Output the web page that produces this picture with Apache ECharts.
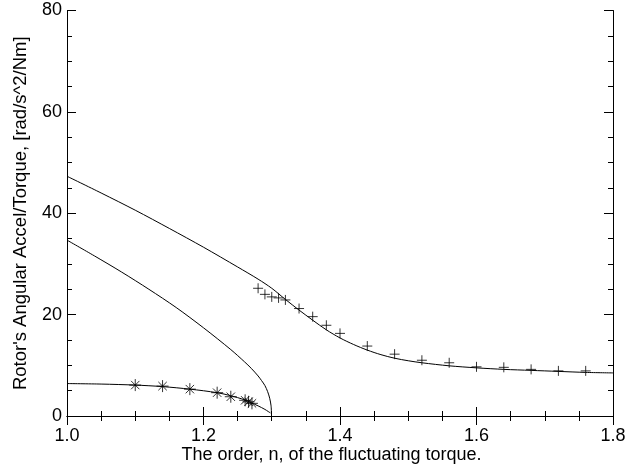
<!DOCTYPE html>
<html>
<head>
<meta charset="utf-8">
<script src="https://cdn.jsdelivr.net/npm/echarts@6/dist/echarts.min.js"></script>
<style>html,body{margin:0;padding:0;background:#fff}#c{width:626px;height:465px}</style>
</head>
<body>
<div id="c"></div>
<script>
// Upper curve (n, value)
const upperN = [1.00,1.05,1.10,1.15,1.20,1.25,1.28,1.30,1.32,1.34,1.36,1.38,1.40,1.42,1.44,1.46,1.48,1.50,1.52,1.56,1.60,1.64,1.68,1.72,1.76,1.80];
const upperV = [47.3,44.0,40.6,37.0,33.3,29.4,27.0,25.2,23.0,20.9,18.9,17.0,15.4,14.1,13.0,12.1,11.4,10.9,10.5,9.9,9.5,9.2,9.0,8.8,8.6,8.5];
// Middle curve
const middleN = [1.00,1.04,1.08,1.12,1.16,1.20,1.24,1.26,1.27,1.28,1.285,1.29,1.294,1.297,1.299,1.2995];
const middleV = [34.7,31.6,28.4,25.0,21.4,17.4,13.1,10.7,9.4,7.9,7.0,6.0,4.8,3.5,2.0,0.6];
// Lower curve
const lowerN = [1.00,1.05,1.10,1.14,1.18,1.22,1.24,1.26,1.27,1.28,1.29,1.298];
const lowerV = [6.4,6.3,6.1,5.8,5.3,4.6,4.0,3.2,2.6,2.0,1.3,0.6];
// Plus markers (measured points, upper branch)
const plusN = [1.28,1.29,1.30,1.31,1.32,1.34,1.36,1.38,1.40,1.44,1.48,1.52,1.56,1.60,1.64,1.68,1.72,1.76];
const plusV = [25.2,24.0,23.5,23.3,22.9,21.2,19.6,17.9,16.3,13.8,12.2,11.0,10.5,9.7,9.6,9.2,8.9,8.9];
// Asterisk markers (measured points, lower branch)
const starN = [1.10,1.14,1.18,1.22,1.24,1.261,1.266,1.271];
const starV = [6.1,5.9,5.3,4.6,3.8,3.1,2.8,2.5];
// Axis
const xTicks = [1.0,1.2,1.4,1.6,1.8];
const yTicks = [0,20,40,60,80];
const xTitle = 'The order, n, of the fluctuating torque.';
const yTitle = "Rotor's Angular Accel/Torque, [rad/s^2/Nm]";

const zip = (a,b) => a.map((v,i)=>[v,b[i]]);
const FONT = '"Liberation Sans", Arial, Helvetica, sans-serif';
const axisCommon = {
  axisLine:{show:true,lineStyle:{color:'#000',width:1}},
  axisTick:{show:true,inside:true,length:9,lineStyle:{color:'#000',width:1}},
  minorTick:{show:true,splitNumber:4,length:5,lineStyle:{color:'#000',width:1}},
  splitLine:{show:false}
};
const chart = echarts.init(document.getElementById('c'), null, {renderer:'canvas'});
chart.setOption({
  animation:false,
  backgroundColor:'#fff',
  grid:{left:67,right:13,top:10.5,bottom:49,containLabel:false,outerBoundsMode:'none'},
  xAxis:[
    Object.assign({type:'value',position:'bottom',min:xTicks[0],max:xTicks[xTicks.length-1],interval:0.2,
      name:xTitle,nameLocation:'middle',nameGap:30,nameMoveOverlap:false,
      nameTextStyle:{color:'#000',fontSize:18,fontFamily:FONT,padding:[0,17,0,0]},
      axisLabel:{color:'#000',fontSize:18,fontFamily:FONT,margin:11,formatter:v=>v.toFixed(1)}},axisCommon),
    Object.assign({type:'value',position:'top',min:xTicks[0],max:xTicks[xTicks.length-1],interval:0.2,
      axisLabel:{show:false}},axisCommon)
  ],
  yAxis:[
    Object.assign({type:'value',position:'left',min:yTicks[0],max:yTicks[yTicks.length-1],interval:20,
      name:yTitle,nameLocation:'middle',nameGap:37,nameRotate:90,nameMoveOverlap:false,
      nameTextStyle:{color:'#000',fontSize:18.5,fontFamily:FONT},
      axisLabel:{color:'#000',fontSize:18,fontFamily:FONT,margin:5}},axisCommon),
    Object.assign({type:'value',position:'right',min:yTicks[0],max:yTicks[yTicks.length-1],interval:20,
      axisLabel:{show:false}},axisCommon)
  ],
  series:[
    {type:'line',data:zip(upperN,upperV),smooth:0.3,showSymbol:false,lineStyle:{color:'#000',width:1}},
    {type:'line',data:zip(middleN,middleV),smooth:0.3,showSymbol:false,lineStyle:{color:'#000',width:1}},
    {type:'line',data:zip(lowerN,lowerV),smooth:0.3,showSymbol:false,lineStyle:{color:'#000',width:1}},
    {type:'scatter',data:zip(plusN,plusV),symbol:'path://M-5,0L5,0M0,-5L0,5',symbolSize:10,
      itemStyle:{color:'none',borderColor:'#000',borderWidth:1}},
    {type:'scatter',data:zip(starN,starV),symbol:'path://M-5,0L5,0M0,-5L0,5M-3.5,-3.5L3.5,3.5M-3.5,3.5L3.5,-3.5',symbolSize:12,
      itemStyle:{color:'none',borderColor:'#000',borderWidth:1}}
  ]
});
</script>
</body>
</html>
